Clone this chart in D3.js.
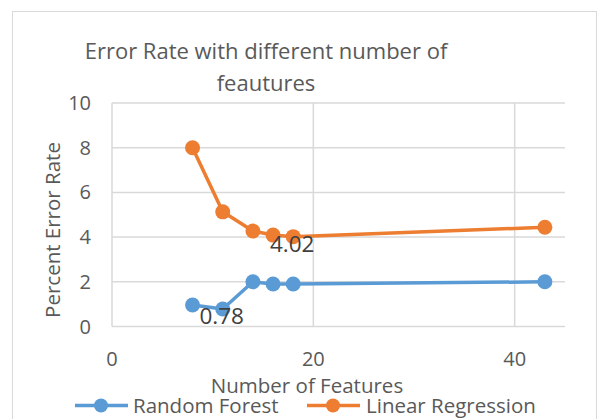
<!DOCTYPE html>
<html>
<head>
<meta charset="utf-8">
<script src="https://cdn.jsdelivr.net/npm/d3@7"></script>
<style>
  body { margin: 0; background: #fff; }
  svg { display: block; font-family: "Open Sans", sans-serif; }
</style>
</head>
<body>
<svg id="chart" width="598" height="419"></svg>
<script>
// data
var features = [8, 11, 14, 16, 18, 43];
var randomForest = [0.96, 0.78, 2.0, 1.9, 1.9, 2.0];
var linearRegression = [8.0, 5.13, 4.27, 4.09, 4.02, 4.44];
var yTicks = [0, 2, 4, 6, 8, 10];
var xTicks = [0, 20, 40];
var seriesNames = ["Random Forest", "Linear Regression"];
var colors = ["#5B9BD5", "#ED7D31"];

var svg = d3.select("#chart");

// chart border
svg.append("rect")
  .attr("x", 12.5).attr("y", 11.5)
  .attr("width", 584).attr("height", 420)
  .attr("fill", "none").attr("stroke", "#D9D9D9");

var plotLeft = 112, plotRight = 565, plotTop = 103, plotBottom = 326.5;

var x = d3.scaleLinear().domain([0, 45]).range([plotLeft, plotRight]);
var y = d3.scaleLinear().domain([0, 10]).range([plotBottom, plotTop]);

var g = svg.append("g");

// horizontal grid
g.selectAll(".hgrid")
  .data(yTicks)
  .enter().append("line")
  .attr("x1", plotLeft).attr("x2", plotRight)
  .attr("y1", function(d) { return y(d); })
  .attr("y2", function(d) { return y(d); })
  .attr("stroke", "#D9D9D9").attr("stroke-width", 1.5);

// vertical grid
g.selectAll(".vgrid")
  .data(xTicks)
  .enter().append("line")
  .attr("y1", plotTop).attr("y2", plotBottom)
  .attr("x1", function(d) { return x(d); })
  .attr("x2", function(d) { return x(d); })
  .attr("stroke", "#D9D9D9").attr("stroke-width", 1.5);

// y tick labels
g.selectAll(".ylab")
  .data(yTicks)
  .enter().append("text")
  .attr("x", 91)
  .attr("y", function(d) { return y(d); })
  .attr("dy", "0.35em")
  .attr("text-anchor", "end")
  .attr("fill", "#595959")
  .style("font-size", "20px")
  .text(function(d) { return d; });

// x tick labels
g.selectAll(".xlab")
  .data(xTicks)
  .enter().append("text")
  .attr("x", function(d) { return x(d); })
  .attr("y", 359)
  .attr("dy", "0.35em")
  .attr("text-anchor", "middle")
  .attr("fill", "#595959")
  .style("font-size", "20px")
  .text(function(d) { return d; });

// title
var title = svg.append("text")
  .attr("text-anchor", "middle")
  .attr("fill", "#595959")
  .style("font-size", "22px");
title.append("tspan").attr("x", 266).attr("y", 59).text("Error Rate with different number of");
title.append("tspan").attr("x", 266).attr("y", 91).text("feautures");

// axis titles
svg.append("text")
  .attr("x", 307).attr("y", 386).attr("dy", "0.35em")
  .attr("text-anchor", "middle")
  .attr("fill", "#595959")
  .style("font-size", "20.5px")
  .text("Number of Features");

svg.append("text")
  .attr("transform", "translate(53,230) rotate(-90)")
  .attr("dy", "0.35em")
  .attr("text-anchor", "middle")
  .attr("fill", "#595959")
  .style("font-size", "20.5px")
  .text("Percent Error Rate");

// series
var series = [randomForest, linearRegression];
var line = d3.line()
  .x(function(d, i) { return x(features[i]); })
  .y(function(d) { return y(d); });

series.forEach(function(vals, s) {
  g.append("path")
    .attr("d", line(vals))
    .attr("fill", "none")
    .attr("stroke", colors[s])
    .attr("stroke-width", 3.5)
    .attr("stroke-linejoin", "round");
  g.selectAll(".pt" + s)
    .data(vals)
    .enter().append("circle")
    .attr("cx", function(d, i) { return x(features[i]); })
    .attr("cy", function(d) { return y(d); })
    .attr("r", 7.5)
    .attr("fill", colors[s]);
});

// data labels (only the minimum of each series)
var labels = [
  { v: randomForest[1], f: features[1] },
  { v: linearRegression[4], f: features[4] }
];
g.selectAll(".dlab")
  .data(labels)
  .enter().append("text")
  .attr("x", function(d) { return x(d.f) - 1; })
  .attr("y", function(d) { return y(d.v) + 7; })
  .attr("dy", "0.35em")
  .attr("text-anchor", "middle")
  .attr("fill", "#404040")
  .style("font-size", "22.5px")
  .text(function(d) { return d.v.toFixed(2); });

// legend
var legendY = 405.5;
var legend = [
  { name: seriesNames[0], x1: 75, x2: 128, cx: 101, tx: 133 },
  { name: seriesNames[1], x1: 307, x2: 360, cx: 333, tx: 366 }
];
legend.forEach(function(d, i) {
  svg.append("line")
    .attr("x1", d.x1).attr("x2", d.x2)
    .attr("y1", legendY).attr("y2", legendY)
    .attr("stroke", colors[i]).attr("stroke-width", 3.5);
  svg.append("circle")
    .attr("cx", d.cx).attr("cy", legendY).attr("r", 7)
    .attr("fill", colors[i]);
  svg.append("text")
    .attr("x", d.tx).attr("y", legendY).attr("dy", "0.35em")
    .attr("fill", "#595959")
    .style("font-size", "20.5px")
    .text(d.name);
});
</script>
</body>
</html>
